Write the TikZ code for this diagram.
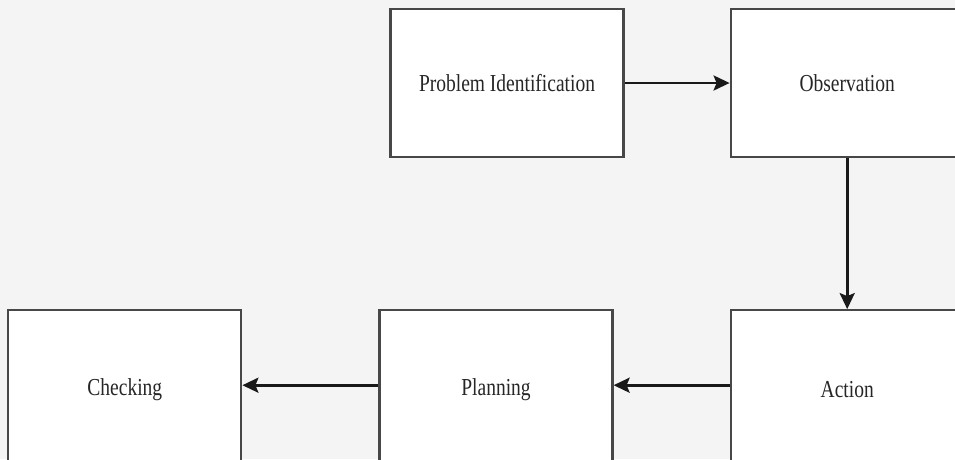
\documentclass[tikz,border=0pt]{standalone}
\usepackage{fontspec}
\usepackage{graphicx}
\setmainfont{Liberation Serif}
\usetikzlibrary{positioning,arrows.meta}
\tikzstyle{every node}+=[inner sep=0.5mm]
\tikzstyle{stage}=[draw=black!72,fill=white,line width=2.2pt,minimum width=233pt,minimum height=148pt,text=black!85,font=\fontsize{19.5}{22}\selectfont]
\tikzstyle{lowstage}=[stage,minimum height=158pt]
\tikzstyle{flow}=[draw=black!90,line width=2.8pt,-{Stealth[length=16pt,width=15pt,inset=3pt]}]
\definecolor{paper}{RGB}{244,244,244}
% labels are set a little taller than wide
\newcommand{\stagelabel}[1]{\scalebox{1}[1.25]{#1}}

\begin{document}
\begin{tikzpicture}[x=1pt,y=1pt]
    % page with its margins
    \useasboundingbox (0,0) rectangle (955,-459);
    \fill[paper] (0,0) rectangle (955,-459);

    % top row
    \node[stage] (problem) at (507,-83) {\stagelabel{Problem Identification}};
    \node[stage,right=105pt of problem] (observation) {\stagelabel{Observation}};

    % bottom row, right to left (runs off the page)
    \node[lowstage,below=151pt of observation] (action) {\stagelabel{Action}};
    \node[lowstage,left=116pt of action] (planning) {\stagelabel{Planning}};
    \node[lowstage,left=136pt of planning] (checking) {\stagelabel{Checking}};

    % cycle
    \draw[flow] (problem) -- (observation);
    \draw[flow] (observation) -- (action);
    \draw[flow] ([yshift=4pt]action.west) -- ([yshift=4pt]planning.east);
    \draw[flow] ([yshift=4pt]planning.west) -- ([yshift=4pt]checking.east);
\end{tikzpicture}
\end{document}
